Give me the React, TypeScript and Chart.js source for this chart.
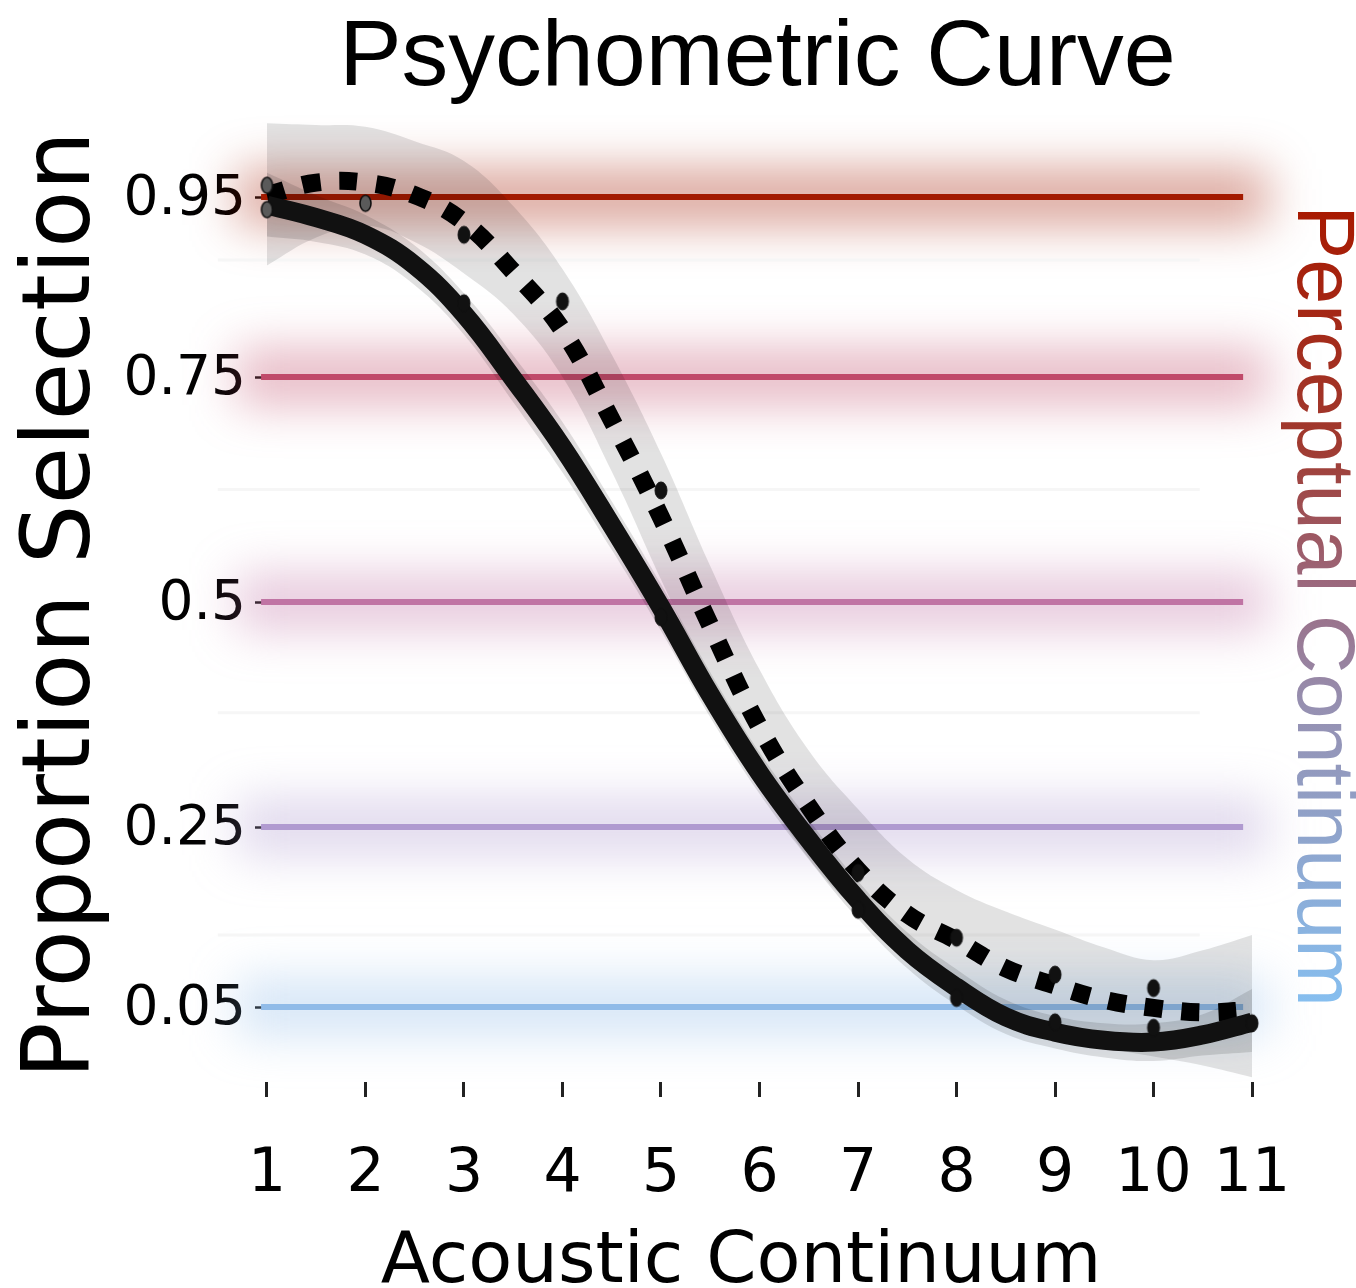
import React, { useEffect, useRef } from "react";
import { Chart, registerables } from "chart.js";

Chart.register(...registerables);

// ---------- data ----------
const continuum = [1, 1.5, 2, 2.5, 3, 3.5, 4, 4.5, 5, 5.5, 6, 6.5, 7, 7.5, 8, 8.5, 9, 9.5, 10, 10.5, 11];

const solidFit = [0.941, 0.927, 0.908, 0.874, 0.82, 0.748, 0.672, 0.585, 0.494, 0.397, 0.31, 0.236, 0.169, 0.113, 0.072, 0.039, 0.022, 0.013, 0.011, 0.019, 0.033];
const solidUpper = [0.977, 0.952, 0.93, 0.896, 0.843, 0.774, 0.7, 0.612, 0.52, 0.422, 0.333, 0.258, 0.19, 0.133, 0.092, 0.058, 0.04, 0.032, 0.032, 0.042, 0.07];
const solidLower = [0.906, 0.9, 0.886, 0.852, 0.797, 0.722, 0.644, 0.558, 0.468, 0.372, 0.287, 0.214, 0.148, 0.093, 0.052, 0.02, 0.004, -0.006, -0.01, -0.004, 0.0];

const dottedFit = [0.952, 0.966, 0.966, 0.952, 0.922, 0.867, 0.802, 0.702, 0.594, 0.474, 0.361, 0.273, 0.202, 0.153, 0.124, 0.093, 0.074, 0.058, 0.049, 0.044, 0.047];
const dottedUpper = [1.032, 1.03, 1.028, 1.012, 0.99, 0.94, 0.87, 0.775, 0.665, 0.54, 0.425, 0.335, 0.27, 0.215, 0.18, 0.156, 0.136, 0.116, 0.102, 0.113, 0.13];
const dottedLower = [0.874, 0.905, 0.918, 0.9, 0.865, 0.82, 0.75, 0.645, 0.525, 0.41, 0.3, 0.215, 0.155, 0.105, 0.075, 0.045, 0.02, 0.005, -0.005, -0.015, -0.028];

const grayPointX = [1, 1, 2];
const grayPointY = [0.963, 0.936, 0.943];
const blackPointX = [3, 3, 4, 5, 5, 7, 7, 8, 8, 9, 9, 10, 10, 11];
const blackPointY = [0.908, 0.832, 0.834, 0.624, 0.483, 0.199, 0.158, 0.127, 0.06, 0.086, 0.033, 0.071, 0.027, 0.032];

const xTicks = [1, 2, 3, 4, 5, 6, 7, 8, 9, 10, 11];
const yTicks = [0.95, 0.75, 0.5, 0.25, 0.05];
const yTickLabels = ["0.95", "0.75", "0.5", "0.25", "0.05"];

const refLevels = [0.95, 0.75, 0.5, 0.25, 0.05];
const refColors = ["#a31a00", "#c04a6a", "#c074a4", "#b09ad0", "#90bbe8"];
const faintLevels = [0.88, 0.625, 0.377, 0.13];

const titleText = "Psychometric Curve";
const xTitle = "Acoustic Continuum";
const yTitle = "Proportion Selection";
const rightTitle = "Perceptual Continuum";

function ellipseImage(rx: number, ry: number, fill: string, stroke: string, lw: number) {
  const c = document.createElement("canvas");
  c.width = Math.ceil(rx * 2 + lw * 2 + 2);
  c.height = Math.ceil(ry * 2 + lw * 2 + 2);
  const g = c.getContext("2d")!;
  g.beginPath();
  g.ellipse(c.width / 2, c.height / 2, rx, ry, 0, 0, Math.PI * 2);
  g.fillStyle = fill;
  g.fill();
  g.lineWidth = lw;
  g.strokeStyle = stroke;
  g.stroke();
  return c;
}

export default function App() {
  const ref = useRef<HTMLCanvasElement | null>(null);

  useEffect(() => {
    const canvas = ref.current;
    if (!canvas) return;

    const grayImg = ellipseImage(5.5, 8, "#5a5a5a", "#111", 1.6);
    const blackImg = ellipseImage(6, 8.5, "#111", "#111", 1);

    const xy = (xs: number[], ys: number[]) => xs.map((x, i) => ({ x, y: ys[i] }));

    const decor = {
      id: "decor",
      beforeDatasetsDraw(chart: any) {
        const { ctx, scales } = chart;
        const x = scales.x;
        const y = scales.y;
        const x0 = x.getPixelForValue(0.94);
        const x1 = x.getPixelForValue(10.91);
        // glows
        refLevels.forEach((v, i) => {
          const py = y.getPixelForValue(v);
          ctx.save();
          ctx.filter = "blur(24px)";
          ctx.globalAlpha = 0.4;
          ctx.fillStyle = refColors[i];
          ctx.fillRect(x0 - 25, py - 28, x1 - x0 + 50, 56);
          ctx.restore();
        });
        // faint grid lines
        const f0 = x.getPixelForValue(0.5);
        const f1 = x.getPixelForValue(10.47);
        ctx.save();
        ctx.strokeStyle = "#f6f6f6";
        ctx.lineWidth = 3;
        faintLevels.forEach((v) => {
          const py = y.getPixelForValue(v);
          ctx.beginPath();
          ctx.moveTo(f0, py);
          ctx.lineTo(f1, py);
          ctx.stroke();
        });
        ctx.restore();
        // reference lines
        refLevels.forEach((v, i) => {
          const py = y.getPixelForValue(v);
          ctx.save();
          ctx.strokeStyle = refColors[i];
          ctx.lineWidth = 6;
          ctx.beginPath();
          ctx.moveTo(x0, py);
          ctx.lineTo(x1, py);
          ctx.stroke();
          ctx.restore();
        });
      },
      afterDraw(chart: any) {
        const { ctx, chartArea } = chart;
        ctx.save();
        ctx.fillStyle = "#000";
        // title
        ctx.font = '93.5px "Liberation Sans", Arial, sans-serif';
        ctx.textAlign = "center";
        ctx.textBaseline = "alphabetic";
        ctx.fillText(titleText, (chartArea.left + chartArea.right) / 2 - 2, 85);
        // x title
        ctx.font = '72px "DejaVu Sans", sans-serif';
        ctx.fillText(xTitle, 741, 1282);
        // y title
        ctx.save();
        ctx.translate(89, 605);
        ctx.rotate(-Math.PI / 2);
        ctx.font = '94px "DejaVu Sans", sans-serif';
        ctx.fillText(yTitle, 0, 0);
        ctx.restore();
        // right title with gradient
        ctx.save();
        ctx.translate(1298, 606);
        ctx.rotate(Math.PI / 2);
        ctx.font = '81px "Liberation Sans", Arial, sans-serif';
        const w = ctx.measureText(rightTitle).width;
        const grad = ctx.createLinearGradient(-w / 2, 0, w / 2, 0);
        grad.addColorStop(0, "#a81900");
        grad.addColorStop(0.3, "#a03a30");
        grad.addColorStop(0.48, "#9b6a80");
        grad.addColorStop(0.62, "#968fb0");
        grad.addColorStop(1, "#86bff0");
        ctx.fillStyle = grad;
        ctx.fillText(rightTitle, 0, 0);
        ctx.restore();
        ctx.restore();
      },
    };

    const chart = new Chart(canvas, {
      type: "line",
      data: {
        datasets: [
          {
            type: "scatter",
            data: xy(grayPointX, grayPointY),
            pointStyle: grayImg as any,
            pointRadius: 8,
            showLine: false,
            clip: false as any,
          },
          {
            type: "scatter",
            data: xy(blackPointX, blackPointY),
            pointStyle: blackImg as any,
            pointRadius: 8,
            showLine: false,
            clip: false as any,
          },
          {
            data: xy(continuum, solidFit),
            borderColor: "#111111",
            borderWidth: 19,
            borderCapStyle: "butt",
            borderJoinStyle: "round",
            pointRadius: 0,
            tension: 0.4,
            fill: false,
            clip: false as any,
          },
          {
            data: xy(continuum, dottedFit),
            borderColor: "#000000",
            borderWidth: 18,
            borderDash: [18, 19],
            borderCapStyle: "butt",
            pointRadius: 0,
            tension: 0.4,
            fill: false,
            clip: false as any,
          },
          {
            data: xy(continuum, solidUpper),
            borderWidth: 0,
            borderColor: "rgba(0,0,0,0)",
            backgroundColor: "rgba(0,0,0,0.12)",
            pointRadius: 0,
            tension: 0.4,
            fill: "+1",
          },
          {
            data: xy(continuum, solidLower),
            borderWidth: 0,
            borderColor: "rgba(0,0,0,0)",
            pointRadius: 0,
            tension: 0.4,
            fill: false,
          },
          {
            data: xy(continuum, dottedUpper),
            borderWidth: 0,
            borderColor: "rgba(0,0,0,0)",
            backgroundColor: "rgba(0,0,0,0.115)",
            pointRadius: 0,
            tension: 0.4,
            fill: "+1",
          },
          {
            data: xy(continuum, dottedLower),
            borderWidth: 0,
            borderColor: "rgba(0,0,0,0)",
            pointRadius: 0,
            tension: 0.4,
            fill: false,
          },
        ],
      },
      options: {
        animation: false,
        responsive: false,
        maintainAspectRatio: false,
        devicePixelRatio: 1,
        layout: { padding: { left: 120, right: 102, top: 120, bottom: 96 } },
        plugins: {
          legend: { display: false },
          tooltip: { enabled: false },
          title: { display: false },
        },
        scales: {
          x: {
            type: "linear",
            min: 0.9797,
            max: 11.0203,
            afterBuildTicks: (s: any) => {
              s.ticks = xTicks.map((v) => ({ value: v }));
            },
            afterFit: (s: any) => {
              s.height = 110;
            },
            border: { display: false },
            grid: {
              drawOnChartArea: false,
              drawTicks: true,
              tickLength: 15,
              tickWidth: 3,
              tickColor: "#222",
            },
            ticks: {
              padding: 42,
              color: "#000",
              maxRotation: 0,
              autoSkip: false,
              font: { family: '"DejaVu Sans", sans-serif', size: 60 },
              callback: (v: any) => String(v),
            },
          },
          y: {
            type: "linear",
            min: -0.03333,
            max: 1.03556,
            afterBuildTicks: (s: any) => {
              s.ticks = yTicks.map((v) => ({ value: v }));
            },
            afterFit: (s: any) => {
              s.width = 145;
            },
            border: { display: false },
            grid: {
              drawOnChartArea: false,
              drawTicks: true,
              tickLength: 10,
              tickWidth: 2.5,
              tickColor: "#111",
            },
            ticks: {
              padding: 9,
              labelOffset: 3,
              color: "#000",
              autoSkip: false,
              font: { family: '"DejaVu Sans", sans-serif', size: 55 },
              callback: (v: any) => {
                const i = yTicks.indexOf(Number(v));
                return i >= 0 ? yTickLabels[i] : "";
              },
            },
          },
        },
      },
      plugins: [decor as any],
    });

    return () => chart.destroy();
  }, []);

  return (
    <div style={{ position: "fixed", left: 0, top: 0, width: 1356, height: 1288, background: "#fff" }}>
      <canvas ref={ref} width={1356} height={1288} style={{ width: 1356, height: 1288, display: "block" }} />
    </div>
  );
}
